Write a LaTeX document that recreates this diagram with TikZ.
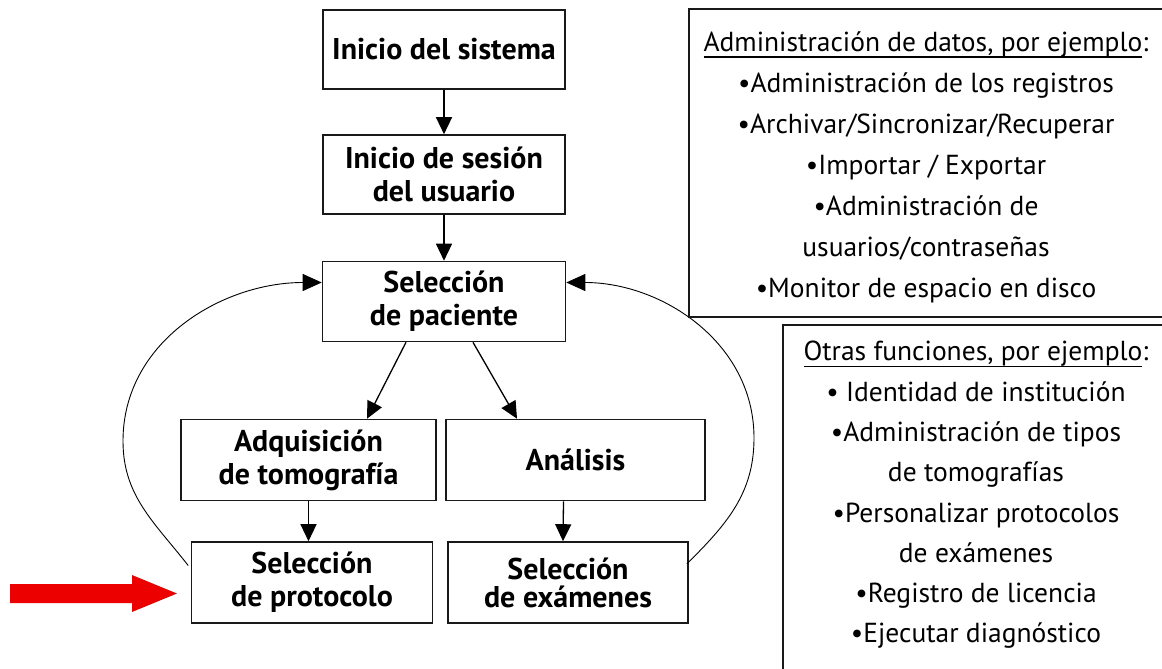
\documentclass[tikz,border=0pt]{standalone}
\usepackage{fontspec}
\setmainfont{PT Sans}
\usetikzlibrary{arrows.meta,calc}
\definecolor{arrred}{RGB}{236,0,0}
\newcommand\myul[1]{\setbox0\hbox{#1}\rlap{\rule[-6.5pt]{\wd0}{1.6pt}}\box0}
\tikzset{
  flowbox/.style={draw=black!90, line width=1.6pt, align=center, inner sep=0pt,
    font=\bfseries\fontsize{30}{33}\selectfont},
  arr/.style={line width=1.3pt, -{Triangle[length=17pt,width=16pt]}},
  loop/.style={line width=0.9pt, -{Triangle[length=19pt,width=17pt]}},
  frame/.style={line width=1.6pt, draw=black!90},
  listtext/.style={align=center, inner sep=0pt, font=\fontsize{27.5}{41}\selectfont}
}
\begin{document}
\begin{tikzpicture}[x=1pt,y=1pt]
\useasboundingbox (0,0) rectangle (1162,-669);
% flow boxes
\node[flowbox, minimum width=242pt, minimum height=79pt] (b1) at (444,-49.5) {Inicio del sistema};
\node[flowbox, minimum width=242pt, minimum height=79pt] (b2) at (444,-174.5) {Inicio de sesión\\del usuario};
\node[flowbox, minimum width=243pt, minimum height=80pt] (b3) at (444,-301.5) {Selección\\de paciente};
\node[flowbox, minimum width=255pt, minimum height=81pt] (b4) at (308.5,-460) {Adquisición\\de tomografía};
\node[flowbox, minimum width=259pt, minimum height=81pt] (b5) at (575.5,-460) {Análisis};
\node[flowbox, minimum width=241pt, minimum height=81pt] (b6) at (312,-582.5) {Selección\\de protocolo};
\node[flowbox, minimum width=240pt, minimum height=81pt, font=\bfseries\fontsize{30}{28}\selectfont] (b7) at (568,-582.5) {Selección\\de exámenes};
% straight connectors
\draw[arr] (b1) -- (b2);
\draw[arr] (b2) -- (b3);
\draw[arr] ($(b3.south)+(-38,0)$) -- ($(b4.north)+(58.5,0)$);
\draw[arr] ($(b3.south)+(29,0)$) -- ($(b5.north)+(-58.5,0)$);
\draw[arr] ($(b4.south)+(0,0)$) -- ($(b6.north)+(-3.5,0)$);
\draw[arr] ($(b5.south)+(-12,0)$) -- ($(b7.north)+(-5,0)$);
% loop connectors
\coordinate (lc) at (123,-441);
\coordinate (rc) at (754,-438);
\draw[loop] ($(b6.west)+(-2.5,17)$) to[out=128,in=270] (lc) to[out=90,in=180] ($(b3.west)+(0,19)$);
\draw[loop] ($(b7.east)+(-2,18.5)$) to[out=45,in=270] (rc) to[out=90,in=0] ($(b3.east)+(0,19)$);
% right-hand frames
\draw[frame] (1162,-9) -- (689,-9) -- (689,-317) -- (1162,-317);
\draw[frame] (1162,-325) -- (783,-325) -- (783,-669);
\node[listtext] (ta) at (926,-167) {\myul{Administración de datos, por ejemplo}:\\
•Administración de los registros\\
•Archivar/Sincronizar/Recuperar\\
•Importar / Exportar\\
•Administración de\\
usuarios/contraseñas\\
•Monitor de espacio en disco};
\node[listtext, font=\fontsize{27.5}{40.3}\selectfont] (tb) at (976,-495) {\myul{Otras funciones, por ejemplo}:\\
• Identidad de institución\\
•Administración de tipos\\
de tomografías\\
•Personalizar protocolos\\
de exámenes\\
•Registro de licencia\\
•Ejecutar diagnóstico};
% red arrow
\fill[arrred] (10,-584) -- (132,-584) -- (132,-575) -- (177,-593.5) -- (132,-612) -- (132,-603) -- (10,-603) -- cycle;
\end{tikzpicture}
\end{document}
